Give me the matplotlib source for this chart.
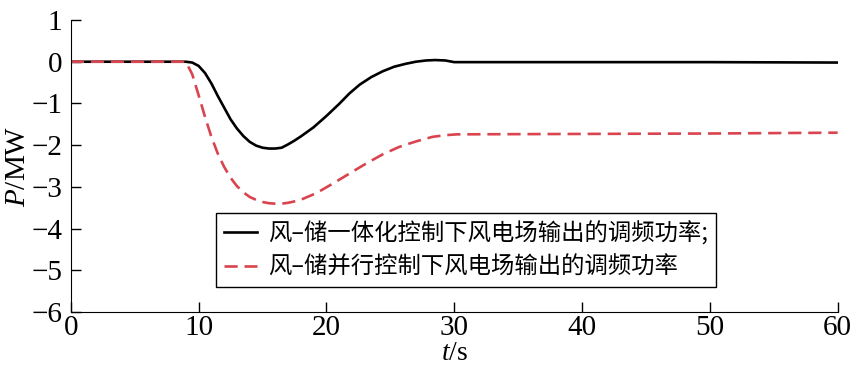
import matplotlib
matplotlib.use('Agg')
import matplotlib.pyplot as plt

plt.rcParams['font.family'] = ['Liberation Serif']
plt.rcParams['mathtext.fontset'] = 'custom'
plt.rcParams['mathtext.rm'] = 'Liberation Serif'
plt.rcParams['mathtext.it'] = 'Liberation Serif:italic'

# 风-储一体化控制 (black)
t_int = [0, 5, 9.0, 9.5, 10.0, 10.5, 11.0, 11.5, 12.0, 12.5, 13.0, 13.5, 14.0, 14.5,
         15.0, 15.5, 16.0, 16.5, 17.0, 17.5, 18.0, 19.0, 20.0, 21.0, 21.8, 22.6,
         23.5, 24.4, 25.3, 26.2, 27.0, 27.8, 28.5, 29.3, 30.0, 40, 50, 60]
p_int = [0, 0, 0, -0.02, -0.10, -0.27, -0.52, -0.82, -1.10, -1.38, -1.60, -1.78, -1.92, -2.01,
         -2.06, -2.08, -2.08, -2.06, -1.98, -1.89, -1.79, -1.57, -1.30, -1.01, -0.76, -0.55,
         -0.37, -0.23, -0.12, -0.05, 0.00, 0.03, 0.04, 0.03, -0.01, -0.01, -0.01, -0.02]

# 风-储并行控制 (red dashed)
t_par = [0, 5, 9.0, 9.5, 10.0, 10.5, 11.0, 11.5, 12.0, 12.5, 13.0, 13.5, 14.0, 14.5,
         15.0, 15.5, 16.0, 16.5, 17.0, 17.9, 19.2, 20.5, 21.8, 23.1, 24.4, 25.7, 27.0,
         28.3, 29.3, 30.2, 40, 50, 60]
p_par = [0, 0, 0, -0.30, -0.80, -1.32, -1.80, -2.20, -2.52, -2.78, -2.98, -3.13, -3.24, -3.31,
         -3.36, -3.39, -3.40, -3.40, -3.38, -3.32, -3.15, -2.92, -2.68, -2.44, -2.22, -2.04, -1.91,
         -1.80, -1.76, -1.74, -1.73, -1.72, -1.70]

labels = ['风–储一体化控制下风电场输出的调频功率;', '风–储并行控制下风电场输出的调频功率']

fig = plt.figure(figsize=(8.53, 3.77), dpi=100)
ax = fig.add_axes([0.083, 0.172, 0.899, 0.775])

ax.plot(t_int, p_int, color='black', lw=1.9, label=labels[0])
ax.plot(t_par, p_par, color='#d9444e', lw=1.9, ls=(0, (5, 2.6)), label=labels[1])

ax.set_xlim(0, 60)
ax.set_ylim(-6, 1)
ax.set_xticks(range(0, 61, 10))
ax.set_yticks(range(-6, 2))
ax.spines['top'].set_visible(False)
ax.spines['right'].set_visible(False)
ax.tick_params(direction='in', length=7, width=1, labelsize=21)
ax.tick_params(axis='x', pad=2)
ax.tick_params(axis='y', pad=6)
ax.set_xlabel(r'$t$/s', fontsize=20, labelpad=0)
ax.set_ylabel(r'$P$/MW', fontsize=21, labelpad=0)

leg = ax.legend(loc='upper left', bbox_to_anchor=(0.189, 0.339), borderaxespad=0,
                frameon=True, fancybox=False, edgecolor='black', framealpha=1,
                prop={'family': ['Noto Sans CJK SC', 'DejaVu Sans'], 'size': 16.8},
                handlelength=1.4, handletextpad=0.5, labelspacing=0.45,
                borderpad=0.35)
leg.get_frame().set_linewidth(1.0)

fig.savefig('out.png', dpi=100)
